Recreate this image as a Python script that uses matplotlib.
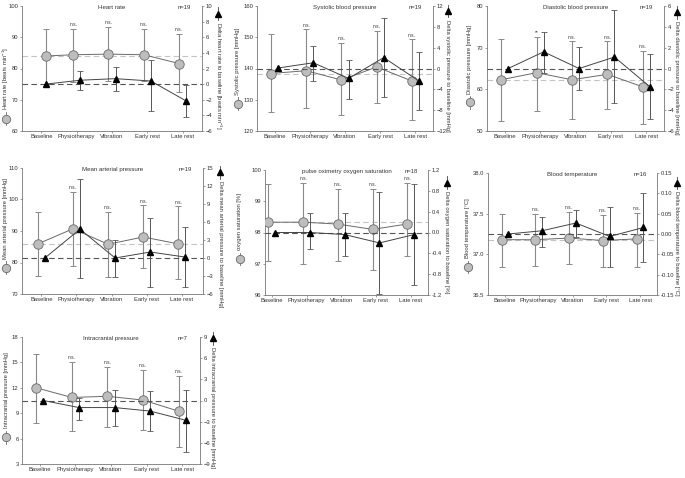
import matplotlib
matplotlib.use("Agg")
import matplotlib.pyplot as plt
from matplotlib.ticker import FormatStrFormatter
import numpy as np

plt.rcParams["font.family"] = ["Liberation Sans", "DejaVu Sans"]
plt.rcParams["mathtext.fontset"] = "custom"
plt.rcParams["mathtext.rm"] = "Liberation Sans"
plt.rcParams["mathtext.it"] = "Liberation Sans"

categories = ["Baseline", "Physiotherapy", "Vibration", "Early rest", "Late rest"]
nan = np.nan

# heart rate
hr_mean = [84.0, 84.4, 84.6, 84.4, 81.6]
hr_low = [75.2, 75.7, 75.9, 75.9, 72.5]
hr_high = [92.5, 92.8, 93.4, 92.8, 91.2]
hr_delta = [0.0, 0.5, 0.7, 0.4, -2.15]
hr_delta_low = [nan, -0.7, -0.9, -3.5, -4.2]
hr_delta_high = [nan, 1.7, 2.2, 3.15, -0.15]
hr_marks = ["", "n.s.", "n.s.", "n.s.", "n.s."]

# systolic blood pressure
sys_mean = [138.4, 139.3, 136.3, 140.5, 136.0]
sys_low = [126.1, 127.5, 125.0, 129.0, 123.4]
sys_high = [150.9, 152.5, 148.2, 152.1, 149.3]
sys_delta = [0.1, 1.1, -1.9, 2.1, -2.4]
sys_delta_low = [nan, -2.4, -5.8, -5.5, -7.9]
sys_delta_high = [nan, 4.4, 1.7, 9.7, 3.2]
sys_marks = ["", "n.s.", "n.s.", "n.s.", "n.s."]

# diastolic blood pressure
dia_mean = [62.3, 64.0, 62.3, 63.6, 60.6]
dia_low = [52.5, 54.9, 53.0, 55.2, 51.7]
dia_high = [72.1, 72.6, 71.5, 71.5, 69.3]
dia_delta = [0.0, 1.6, 0.0, 1.1, -1.75]
dia_delta_low = [nan, -0.4, -2.1, -3.3, -4.8]
dia_delta_high = [nan, 3.5, 2.05, 5.6, 1.4]
dia_marks = ["", "**", "n.s.", "n.s.", "n.s."]

# mean arterial pressure
map_mean = [85.9, 90.7, 85.8, 88.1, 85.9]
map_low = [75.8, 78.9, 75.5, 78.2, 74.7]
map_high = [95.9, 102.4, 96.0, 98.1, 97.8]
map_delta = [0.0, 4.8, 0.0, 1.0, 0.15]
map_delta_low = [nan, -3.4, -3.2, -4.8, -4.9]
map_delta_high = [nan, 13.1, 3.0, 6.7, 5.2]
map_marks = ["", "n.s.", "n.s.", "n.s.", "n.s."]

# pulse oximetry oxygen saturation
spo2_mean = [98.33, 98.33, 98.27, 98.1, 98.27]
spo2_low = [97.1, 97.0, 97.1, 96.8, 97.25]
spo2_high = [99.55, 99.6, 99.4, 99.4, 99.6]
spo2_delta = [0.0, 0.0, -0.04, -0.2, -0.04]
spo2_delta_low = [nan, -0.32, -0.46, -1.18, -1.01]
spo2_delta_high = [nan, 0.37, 0.38, 0.77, 0.93]
spo2_marks = ["", "n.s.", "n.s.", "n.s.", "n.s."]

# blood temperature
temp_mean = [37.18, 37.18, 37.2, 37.17, 37.19]
temp_low = [36.85, 36.86, 36.88, 36.85, 36.85]
temp_high = [37.5, 37.5, 37.52, 37.48, 37.51]
temp_delta = [0.0, 0.008, 0.027, -0.006, 0.016]
temp_delta_low = [nan, -0.031, -0.008, -0.08, -0.07]
temp_delta_high = [nan, 0.043, 0.058, 0.066, 0.102]
temp_marks = ["", "n.s.", "n.s.", "n.s.", "n.s."]

# intracranial pressure
icp_mean = [12.0, 10.86, 11.0, 10.55, 9.24]
icp_low = [7.9, 6.9, 7.4, 7.0, 5.0]
icp_high = [16.0, 15.0, 14.5, 14.15, 13.4]
icp_delta = [0.0, -1.0, -1.0, -1.5, -2.8]
icp_delta_low = [nan, -2.8, -3.6, -4.3, -7.3]
icp_delta_high = [nan, 0.4, 1.55, 1.35, 1.55]
icp_marks = ["", "n.s.", "n.s.", "n.s.", "n.s."]

W, H = 685, 478
fig = plt.figure(figsize=(W / 100, H / 100), dpi=100)
fig.patch.set_facecolor("white")

FS = 4.2
TXT = "#333333"
SPINE = "#777777"


def panel(px, title, n, mean, low, high, delta, dlow, dhigh, marks,
          ylim, yticks, y2lim, y2ticks, ylabel, y2label, ref=True,
          xlim=(0.5, 5.5), cx=None, tx=None, lfmt=None, rfmt=None,
          lab_dx=17, rlab_dx=16, lmark=0.22, rmark=0.95):
    x0, y0, x1, y1 = px
    ax = fig.add_axes([x0 / W, 1 - y1 / H, (x1 - x0) / W, (y1 - y0) / H])
    ax2 = ax.twinx()
    pos = np.arange(1, 6)
    if cx is None:
        cx = pos - 0.1
    if tx is None:
        tx = pos + 0.1
    mean = np.array(mean)
    delta = np.array(delta)

    ax.set_xlim(*xlim)
    ax.set_ylim(*ylim)
    ax.set_yticks(yticks)
    ax2.set_ylim(*y2lim)
    ax2.set_yticks(y2ticks)
    ax.set_xticks(pos)
    ax.set_xticklabels(categories)

    # reference lines
    if ref:
        ax.axhline(mean[0], color="#c4c4c4", lw=0.8, ls=(0, (5, 3)), zorder=1)
    ax2.axhline(0, color="#555555", lw=0.8, ls=(0, (5, 3)), zorder=1)

    ax.errorbar(cx, mean, yerr=[mean - np.array(low), np.array(high) - mean],
                fmt="none", ecolor="#8a8a8a", elinewidth=0.8, capsize=2.2,
                capthick=0.7, zorder=2)
    ax.plot(cx, mean, color="#6a6a6a", lw=0.7, marker="o", ms=6.8,
            mfc="#bdbdbd", mec="#6a6a6a", mew=0.6, zorder=3)
    ax2.errorbar(tx, delta, yerr=[delta - np.array(dlow), np.array(dhigh) - delta],
                 fmt="none", ecolor="#555555", elinewidth=0.7, capsize=2.0,
                 capthick=0.6, zorder=2)
    ax2.plot(tx, delta, color="#444444", lw=0.7, marker="^", ms=4.5,
             mfc="black", mec="black", zorder=4)

    for xi, hi, m in zip(cx, high, marks):
        if m:
            ax.text(xi, hi + (ylim[1] - ylim[0]) * 0.015, m, ha="center",
                    va="bottom", fontsize=3.5, color=TXT)

    ax.text(0.5, 0.985, title, transform=ax.transAxes, ha="center",
            va="center", fontsize=FS + 0.2, color=TXT)
    ax.text(0.9, 0.985, "n=%d" % n, transform=ax.transAxes, ha="center",
            va="center", fontsize=FS, color=TXT)

    wpx = x1 - x0
    # left label with circle symbol
    lx = -lab_dx / wpx
    ax.plot([lx, lx], [lmark - 0.05, lmark + 0.05], transform=ax.transAxes,
            color="#6a6a6a", lw=0.6, clip_on=False)
    ax.plot([lx], [lmark], transform=ax.transAxes, marker="o", ms=6,
            mfc="#bdbdbd", mec="#6a6a6a", mew=0.6, clip_on=False)
    ax.text(lx, lmark + 0.07, ylabel, transform=ax.transAxes, rotation=90,
            ha="center", va="bottom", fontsize=FS, color=TXT)
    # right label with triangle symbol
    rx = 1 + rlab_dx / wpx
    ax2.plot([rx, rx], [rmark - 0.05, rmark + 0.05], transform=ax2.transAxes,
             color="#444444", lw=0.6, clip_on=False)
    ax2.plot([rx], [rmark], transform=ax2.transAxes, marker="^", ms=5,
             mfc="black", mec="black", clip_on=False)
    ax2.text(rx, rmark - 0.07, y2label, transform=ax2.transAxes, rotation=-90,
             ha="center", va="top", fontsize=FS, color=TXT)

    for a in (ax, ax2):
        a.spines["top"].set_visible(False)
        for s in ("left", "right", "bottom"):
            a.spines[s].set_color(SPINE)
            a.spines[s].set_linewidth(0.6)
        a.tick_params(labelsize=FS, colors=TXT, length=1.5, width=0.5,
                      pad=1.0, color=SPINE)
    ax2.spines["left"].set_visible(False)
    ax2.spines["bottom"].set_visible(False)
    ax.spines["right"].set_visible(False)
    if lfmt:
        ax.yaxis.set_major_formatter(FormatStrFormatter(lfmt))
    if rfmt:
        ax2.yaxis.set_major_formatter(FormatStrFormatter(rfmt))
    return ax


panel((22, 6, 202, 131), "Heart rate", 19, hr_mean, hr_low, hr_high,
      hr_delta, hr_delta_low, hr_delta_high, hr_marks,
      (60, 100), np.arange(60, 101, 10), (-6, 10), np.arange(-6, 11, 2),
      r"Heart rate [beats min$^{-1}$]",
      r"Delta heart rate to baseline [beats min$^{-1}$]",
      xlim=(0.45, 5.55),
      cx=[1.12, 1.9, 2.9, 3.9, 4.9], tx=[1.12, 2.1, 3.1, 4.1, 5.1],
      lab_dx=16, lmark=0.1, rmark=0.94)

panel((257, 6, 433, 131), "Systolic blood pressure", 19, sys_mean, sys_low,
      sys_high, sys_delta, sys_delta_low, sys_delta_high, sys_marks,
      (120, 160), np.arange(120, 161, 10), (-12, 12), np.arange(-12, 13, 4),
      "Systolic pressure [mmHg]",
      "Delta systolic pressure to baseline [mmHg]",
      lab_dx=19, lmark=0.22, rmark=0.96, rlab_dx=15)

panel((487, 6, 664, 131), "Diastolic blood pressure", 19, dia_mean, dia_low,
      dia_high, dia_delta, dia_delta_low, dia_delta_high, dia_marks,
      (50, 80), np.arange(50, 81, 10), (-6, 6), np.arange(-6, 7, 2),
      "Diastolic pressure [mmHg]",
      "Delta diastolic pressure to baseline [mmHg]",
      lab_dx=17, lmark=0.23, rmark=0.95, rlab_dx=13)

panel((22, 168, 203, 294), "Mean arterial pressure", 19, map_mean, map_low,
      map_high, map_delta, map_delta_low, map_delta_high, map_marks,
      (70, 110), np.arange(70, 111, 10), (-6, 15), np.arange(-6, 16, 3),
      "Mean arterial pressure [mmHg]",
      "Delta mean arterial pressure to baseline [mmHg]",
      xlim=(0.45, 5.6), lab_dx=16, lmark=0.21, rmark=0.965, rlab_dx=17)

panel((265, 170, 428, 295), "pulse oximetry oxygen saturation", 18, spo2_mean,
      spo2_low, spo2_high, spo2_delta, spo2_delta_low, spo2_delta_high,
      spo2_marks,
      (96, 100), np.arange(96, 101, 1), (-1.2, 1.2), np.arange(-1.2, 1.21, 0.4),
      "oxygen saturation [%]",
      "Delta oxygen saturation to baseline [%]",
      xlim=(0.8, 5.5), rfmt="%.1f", lab_dx=25, lmark=0.29, rmark=0.9,
      rlab_dx=19)

panel((488, 173, 657, 295), "Blood temperature", 16, temp_mean, temp_low,
      temp_high, temp_delta, temp_delta_low, temp_delta_high, temp_marks,
      (36.5, 38.0), np.arange(36.5, 38.01, 0.5), (-0.15, 0.15),
      np.arange(-0.15, 0.151, 0.05),
      "Blood temperature [\u00b0C]",
      "Delta blood temperature to baseline [\u00b0C]",
      lfmt="%.1f", rfmt="%.2f", lab_dx=20, lmark=0.23, rmark=0.92,
      rlab_dx=20)

panel((22, 337, 200, 464), "Intracranial pressure", 7, icp_mean, icp_low,
      icp_high, icp_delta, icp_delta_low, icp_delta_high, icp_marks,
      (3, 18), np.arange(3, 19, 3), (-9, 9), np.arange(-9, 10, 3),
      "Intracranial pressure [mmHg]",
      "Delta intracranial pressure to baseline [mmHg]",
      ref=False, lab_dx=16, lmark=0.21, rmark=0.99, rlab_dx=13)

fig.savefig("out.png", dpi=100, facecolor="white")
